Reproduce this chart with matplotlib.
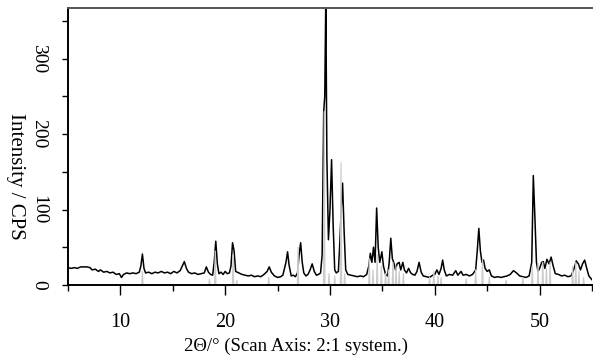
import matplotlib
matplotlib.use("Agg")
import matplotlib.pyplot as plt
from matplotlib.ticker import MultipleLocator

plt.rcParams['font.family'] = ['Liberation Serif', 'DejaVu Serif']

# measured pattern (black)
two_theta = [5.0, 5.3, 5.6, 5.9, 6.2, 6.5, 6.8, 7.1, 7.3, 7.6, 7.9, 8.1, 8.4, 8.7, 9.0, 9.3, 9.6, 9.9,
             10.1, 10.3, 10.6, 10.9, 11.2, 11.5, 11.8, 11.95, 12.1, 12.25, 12.4, 12.7, 13.0, 13.3, 13.6,
             13.9, 14.2, 14.5, 14.8, 15.1, 15.4, 15.7, 15.9, 16.1, 16.3, 16.5, 16.8, 17.1, 17.4, 17.7,
             18.0, 18.2, 18.4, 18.6, 18.8, 18.95, 19.1, 19.25, 19.4, 19.6, 19.8, 20.0, 20.2, 20.4,
             20.55, 20.7, 20.85, 21.0, 21.3, 21.6, 21.9, 22.2, 22.5, 22.8, 23.1, 23.4, 23.7, 24.0,
             24.2, 24.4, 24.7, 25.0, 25.3, 25.5, 25.8, 25.95, 26.1, 26.3, 26.5, 26.7, 26.9, 27.05,
             27.2, 27.35, 27.5, 27.7, 27.9, 28.1, 28.3, 28.5, 28.7, 28.9, 29.1, 29.25, 29.4, 29.5,
             29.6, 29.7, 29.85, 30.0, 30.15, 30.3, 30.45, 30.6, 30.8, 30.95, 31.1, 31.2, 31.35,
             31.5, 31.7, 32.0, 32.3, 32.6, 32.9, 33.2, 33.5, 33.7, 33.85, 34.0, 34.15, 34.3, 34.45,
             34.6, 34.75, 34.95, 35.1, 35.3, 35.5, 35.65, 35.8, 35.95, 36.1, 36.25, 36.4, 36.6,
             36.75, 36.95, 37.1, 37.3, 37.5, 37.7, 37.9, 38.1, 38.3, 38.5, 38.7, 38.9, 39.2, 39.5,
             39.8, 40.0, 40.2, 40.4, 40.6, 40.75, 40.9, 41.1, 41.4, 41.7, 42.0, 42.2, 42.5, 42.7,
             43.0, 43.3, 43.6, 43.9, 44.05, 44.2, 44.35, 44.5, 44.65, 44.8, 45.0, 45.2, 45.4, 45.7,
             46.0, 46.3, 46.6, 46.9, 47.2, 47.5, 47.8, 48.1, 48.4, 48.7, 49.0, 49.25, 49.4, 49.55,
             49.7, 49.85, 50.0, 50.2, 50.35, 50.5, 50.7, 50.9, 51.1, 51.3, 51.5, 51.8, 52.1, 52.4,
             52.7, 53.0, 53.3, 53.5, 53.7, 53.9, 54.1, 54.3, 54.5, 54.7, 55.0]
intensity = [23, 22, 23, 22, 24, 24, 24, 23, 20, 21, 18, 20, 17, 18, 16, 17, 14, 15,
             10, 14, 16, 15, 16, 15, 17, 25, 41, 22, 16, 17, 15, 17, 16,
             18, 16, 17, 15, 18, 16, 19, 25, 31, 22, 17, 15, 16, 14, 15,
             16, 24, 17, 14, 13, 30, 58, 28, 15, 17, 14, 18, 15, 16,
             25, 56, 45, 18, 16, 14, 13, 12, 13, 11, 12, 11, 14, 18,
             24, 17, 12, 10, 11, 13, 30, 44, 26, 12, 13, 11, 16, 40,
             56, 30, 16, 12, 14, 20, 28, 18, 13, 14, 16, 40, 230, 250,
             380, 170, 60, 100, 166, 80, 20, 16, 18, 60, 110, 135, 70,
             20, 14, 13, 12, 11, 12, 11, 14, 25, 42, 30, 50, 30, 102,
             50, 30, 44, 25, 14, 12, 30, 62, 35, 29, 20, 28, 30,
             20, 30, 20, 16, 22, 16, 14, 13, 18, 30, 17, 12, 11, 10,
             13, 14, 20, 14, 22, 33, 20, 12, 14, 13, 19, 13, 18, 13,
             14, 12, 14, 20, 45, 75, 45, 30, 33, 22, 18, 20, 12, 10,
             11, 10, 11, 12, 14, 19, 16, 12, 11, 10, 12, 30, 145, 90,
             30, 18, 22, 30, 31, 22, 34, 28, 37, 25, 15, 14, 12, 13,
             11, 12, 22, 32, 28, 20, 28, 33, 22, 12, 7]

# reference pattern (grey): peak positions and heights
ref_pos = [12.1, 18.5, 19.05, 20.75, 21.1, 24.15, 26.95, 29.45, 29.9, 30.45, 31.05, 31.4,
           33.75, 34.1, 34.5, 34.9, 35.3, 35.6, 36.0, 36.3, 36.6, 37.0, 39.5, 39.9, 40.3,
           40.6, 43.0, 43.9, 44.55, 45.2, 46.8, 48.4, 49.3, 49.85, 50.3, 50.65, 51.0, 53.15,
           53.45, 53.75, 54.2]
ref_height = [18, 8, 45, 40, 6, 10, 50, 230, 15, 12, 162, 15,
              35, 20, 40, 25, 15, 20, 30, 25, 18, 15, 10, 18, 12,
              10, 8, 20, 33, 10, 6, 10, 25, 28, 30, 22, 30, 25,
              30, 18, 10]

ref_x = [5.0]
ref_y = [0]
for p, h in zip(ref_pos, ref_height):
    ref_x += [p - 0.06, p, p + 0.06]
    ref_y += [0, h, 0]
ref_x.append(55.0)
ref_y.append(0)

fig = plt.figure(figsize=(5.93, 3.63), dpi=100)
ax = fig.add_axes([68/593, 78/363, 524/593, 277/363])

ax.plot(two_theta, intensity, color='black', lw=1.1, zorder=2.1)
ax.plot(ref_x, ref_y, color='#cccccc', lw=0.9, zorder=2.2)

ax.set_xlim(5, 55)
ax.set_ylim(0, 367)

ax.xaxis.set_major_locator(MultipleLocator(10))
ax.xaxis.set_minor_locator(MultipleLocator(5))
ax.yaxis.set_major_locator(MultipleLocator(100))
ax.yaxis.set_minor_locator(MultipleLocator(50))

ax.tick_params(axis='x', which='major', length=7, width=1, direction='out', labelsize=14.5, pad=13)
ax.tick_params(axis='x', which='minor', length=4, width=1, direction='out')
ax.tick_params(axis='y', which='both', length=4, width=1, direction='out', labelsize=14, pad=11)
for lab in ax.get_yticklabels():
    lab.set_rotation(-90)
    lab.set_va('center')

ax.spines['right'].set_visible(False)
ax.spines['top'].set_color('#555555')
for s in ['left', 'bottom', 'top']:
    ax.spines[s].set_linewidth(1.4)
    ax.spines[s].set_zorder(2.5)

fig.text(0.5, 0.047, '2\u0398/\u00b0 (Scan Axis: 2:1 system.)', ha='center', va='center', fontsize=13.5)
fig.text(0.026, 0.515, 'Intensity / CPS', rotation=-90, ha='center', va='center', fontsize=15)

fig.savefig('out.png', dpi=100)
